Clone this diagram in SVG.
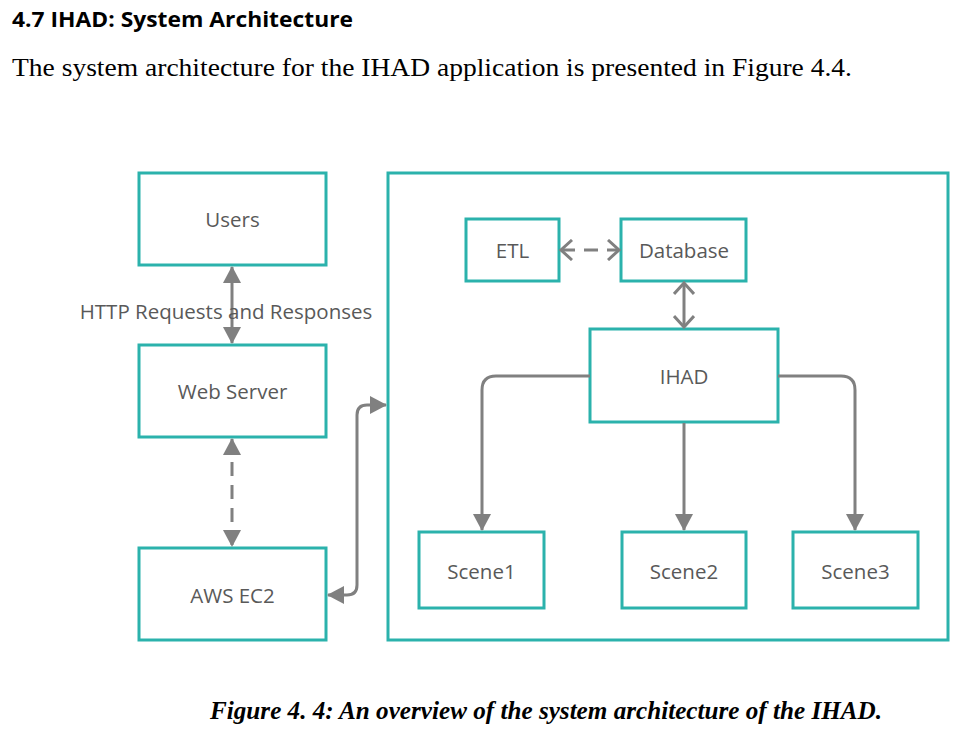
<svg xmlns="http://www.w3.org/2000/svg" width="975" height="731" viewBox="0 0 975 731">
<style>
.box{fill:#fff;stroke:#2bb2ac;stroke-width:3}
.lbl{font-family:"Open Sans",sans-serif;font-size:20.5px;fill:#595959;text-anchor:middle;dominant-baseline:central}
.con{fill:none;stroke:#808080;stroke-width:3}
.dash{stroke-dasharray:14,9}
</style>
<defs>
<marker id="tri" markerUnits="userSpaceOnUse" viewBox="0 0 17 18" refX="16" refY="9" markerWidth="17" markerHeight="18" orient="auto-start-reverse">
<path d="M0,0 L17,9 L0,18 z" fill="#808080"/>
</marker>
<marker id="chev" markerUnits="userSpaceOnUse" viewBox="0 0 14 22" refX="12" refY="11" markerWidth="14" markerHeight="22" orient="auto-start-reverse">
<path d="M1,1 L12,11 L1,21" fill="none" stroke="#808080" stroke-width="3"/>
</marker>
</defs>
<rect width="975" height="731" fill="#fff"/>
<text x="12" y="27" font-family="'Open Sans','Liberation Sans',sans-serif" font-weight="bold" font-size="22" fill="#000" textLength="341" lengthAdjust="spacingAndGlyphs">4.7 IHAD: System Architecture</text>
<text x="12" y="76" font-family="'Liberation Serif',serif" font-size="25" fill="#000" textLength="840" lengthAdjust="spacingAndGlyphs">The system architecture for the IHAD application is presented in Figure 4.4.</text>

<g id="container"><rect class="box" x="388" y="173" width="560" height="467"/></g>
<g id="users"><rect class="box" x="139" y="173" width="187" height="92"/><text class="lbl" x="232.5" y="219">Users</text></g>
<g id="webserver"><rect class="box" x="139" y="345" width="187" height="92"/><text class="lbl" x="232.5" y="391">Web Server</text></g>
<g id="awsec2"><rect class="box" x="139" y="548" width="187" height="92"/><text class="lbl" x="232.5" y="595">AWS EC2</text></g>
<g id="etl"><rect class="box" x="466" y="219" width="93" height="62"/><text class="lbl" x="512.5" y="250">ETL</text></g>
<g id="database"><rect class="box" x="621" y="219" width="125" height="62"/><text class="lbl" x="684" y="250">Database</text></g>
<g id="ihad"><rect class="box" x="590" y="329" width="188" height="93"/><text class="lbl" x="684" y="376">IHAD</text></g>
<g id="scene1"><rect class="box" x="419" y="532" width="125" height="76"/><text class="lbl" x="481.5" y="571">Scene1</text></g>
<g id="scene2"><rect class="box" x="622" y="532" width="124" height="76"/><text class="lbl" x="684" y="571">Scene2</text></g>
<g id="scene3"><rect class="box" x="793" y="532" width="125" height="76"/><text class="lbl" x="855.5" y="571">Scene3</text></g>

<g id="connectors">
<path class="con" d="M232,267 L232,343" marker-start="url(#tri)" marker-end="url(#tri)"/>
<text x="226" y="311" font-family="'Open Sans',sans-serif" font-size="20.5" fill="#595959" text-anchor="middle" dominant-baseline="central">HTTP Requests and Responses</text>
<path class="con dash" d="M232,439 L232,546" marker-start="url(#tri)" marker-end="url(#tri)"/>
<path class="con" d="M328,595 L347,595 Q357,595 357,585 L357,415 Q357,405 367,405 L386,405" marker-start="url(#tri)" marker-end="url(#tri)"/>
<path class="con dash" d="M561,250 L619,250" marker-start="url(#chev)" marker-end="url(#chev)"/>
<path class="con" d="M684,283 L684,327" marker-start="url(#chev)" marker-end="url(#chev)"/>
<path class="con" d="M590,376 L496,376 Q482,376 482,390 L482,530" marker-end="url(#tri)"/>
<path class="con" d="M684,423 L684,530" marker-end="url(#tri)"/>
<path class="con" d="M778,376 L841,376 Q855,376 855,390 L855,530" marker-end="url(#tri)"/>
</g>

<text x="210" y="719" font-family="'Liberation Serif',serif" font-weight="bold" font-style="italic" font-size="25" fill="#000" textLength="672" lengthAdjust="spacingAndGlyphs">Figure 4. 4: An overview of the system architecture of the IHAD.</text>
</svg>
